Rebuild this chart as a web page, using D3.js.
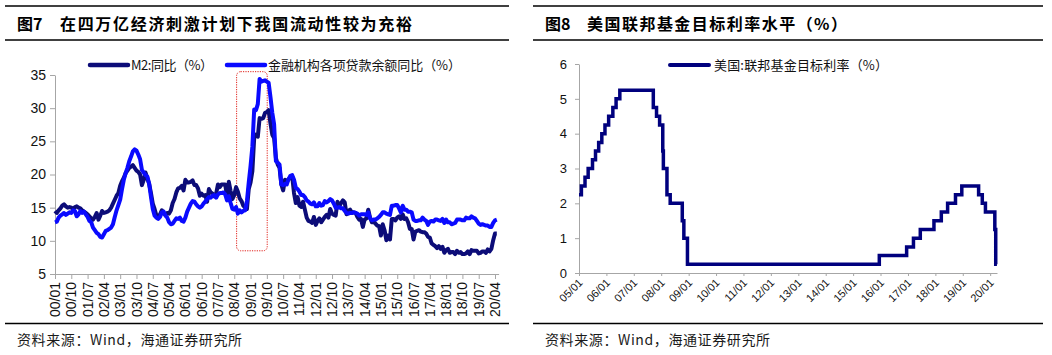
<!DOCTYPE html>
<html><head><meta charset="utf-8">
<script src="https://cdn.jsdelivr.net/npm/d3@7"></script>
<style>
body{margin:0;background:#fff;}
text{font-family:"Liberation Sans",Arial,"Noto Sans CJK SC",sans-serif;}
.cjk{font-family:"Noto Sans CJK SC",sans-serif;}
</style></head><body>
<svg id="c" width="1052" height="355"></svg>
<script>
// ---------- DATA ----------
// Left chart: monthly, 2000/01 .. 2020/05
const startYear = 2000;
const m2Yoy = [
14.5,14.2,14.6,14.9,15.3,15.5,15.2,15.0,15.1,15.0,14.8,15.1,
15.2,15.0,14.9,14.6,14.4,14.2,14.0,13.7,13.4,13.2,13.6,14.2,
13.2,13.8,14.5,14.2,14.3,14.4,14.6,15.0,15.6,16.2,16.8,17.2,
18.3,19.0,19.5,20.2,20.6,21.0,21.2,21.4,21.0,20.6,20.4,20.0,
18.4,19.2,20.3,19.4,18.6,17.2,15.6,14.8,13.8,13.6,14.0,14.6,
14.1,14.0,14.2,14.1,14.6,15.7,16.3,17.3,17.9,18.0,18.3,17.6,
19.2,18.8,18.8,18.9,19.1,18.4,18.4,17.9,16.8,17.1,16.8,16.9,
15.9,17.8,17.3,17.1,16.7,17.1,18.5,18.1,18.5,18.5,18.5,16.7,
18.9,17.5,16.3,16.9,18.1,17.4,16.4,16.0,15.3,15.0,14.8,17.8,
18.8,20.5,25.5,26.0,25.7,28.5,28.4,28.5,29.3,29.4,29.7,27.7,
26.0,25.5,22.5,21.5,21.0,18.5,17.6,19.2,19.0,19.3,19.5,19.7,
17.2,15.7,16.6,15.3,15.1,15.9,14.7,13.5,13.0,12.9,12.7,13.6,
12.4,13.0,13.4,12.8,13.2,13.6,13.9,13.5,14.8,14.1,13.9,13.8,
15.9,15.2,15.7,16.1,15.8,14.0,14.5,14.7,14.2,14.3,14.2,13.6,
13.2,13.3,12.1,13.2,13.4,14.7,13.5,12.8,12.9,12.6,12.3,12.2,
10.8,12.5,11.6,10.1,10.8,10.2,13.3,13.3,13.1,13.5,13.7,13.3,
14.0,13.3,13.4,12.8,11.8,11.8,10.2,11.4,11.5,11.6,11.4,11.3,
11.3,11.1,10.6,10.5,9.6,9.4,9.2,8.9,9.2,8.8,9.1,8.2,
8.6,8.8,8.2,8.3,8.3,8.0,8.5,8.2,8.3,8.0,8.0,8.1,
8.4,8.0,8.6,8.5,8.5,8.5,8.1,8.2,8.4,8.4,8.2,8.7,
8.4,8.8,10.1,11.1,11.1
];
const loanYoy = [
12.8,12.9,13.5,13.8,14.0,14.2,13.9,14.1,14.3,14.2,14.6,14.5,
13.7,14.0,14.5,14.2,14.4,14.0,13.6,13.0,12.8,12.0,11.6,11.2,
11.0,10.6,10.5,11.0,11.5,11.6,11.8,12.0,12.5,13.6,14.6,15.4,
16.2,17.8,19.2,20.2,21.0,22.0,22.7,23.5,23.8,23.6,23.0,22.3,
20.7,20.3,19.9,19.7,18.6,16.6,14.8,13.8,13.5,13.3,13.6,14.3,
14.4,13.8,13.5,12.8,12.5,12.6,13.0,13.4,13.3,13.5,13.0,12.9,
13.5,14.4,15.0,15.6,16.0,15.9,15.5,15.2,15.0,15.2,15.6,15.9,
16.3,16.6,16.5,16.8,16.9,16.5,17.0,17.2,17.2,17.3,17.0,16.1,
16.7,15.7,14.8,14.7,15.1,14.1,14.6,14.3,14.5,14.6,16.0,18.8,
21.3,24.2,29.8,29.7,30.6,34.4,34.0,34.1,34.2,34.0,33.8,31.7,
29.3,27.6,22.0,21.8,21.5,18.5,18.4,18.6,18.5,19.3,19.8,19.9,
19.2,18.0,17.8,17.4,16.9,16.9,16.6,16.1,15.9,15.6,15.5,15.8,
15.2,15.2,15.7,15.3,15.4,16.0,15.8,16.0,16.3,16.1,15.6,15.0,
15.0,15.1,14.9,14.9,14.5,14.2,14.1,14.2,14.2,14.3,14.2,14.1,
13.8,14.0,14.0,14.0,13.9,14.3,13.4,13.1,13.2,13.2,13.4,13.6,
13.9,14.3,14.3,14.1,14.0,13.9,15.3,15.3,15.4,15.4,14.9,14.3,
15.3,14.7,14.7,14.4,14.4,14.3,13.2,13.0,13.0,13.1,13.1,13.5,
13.2,13.0,12.4,12.9,13.0,12.9,13.2,13.2,13.1,13.0,13.3,12.7,
13.2,12.8,12.8,12.5,12.6,12.7,13.2,13.2,13.2,13.1,13.1,13.5,
13.4,13.4,13.7,13.5,13.4,13.0,12.6,12.4,12.5,12.4,12.3,12.3,
12.1,12.1,12.7,13.1,13.2
];
const leftXTicks = ["00/01","00/10","01/07","02/04","03/01","03/10","04/07","05/04","06/01","06/10",
"07/07","08/04","09/01","09/10","10/07","11/04","12/01","12/10","13/07","14/04","15/01","15/10",
"16/07","17/04","18/01","18/10","19/07","20/04"];
const leftYTicks = [5,10,15,20,25,30,35];
const leftSeriesNames = ["M2:同比（%）","金融机构各项贷款余额同比（%）"];

// Right chart: Fed funds target rate (upper bound), step changes
const fedDates = ["2005-01-01","2005-02-02","2005-03-22","2005-05-03","2005-06-30","2005-08-09","2005-09-20",
"2005-11-01","2005-12-13","2006-01-31","2006-03-28","2006-05-10","2006-06-29","2007-09-18","2007-10-31",
"2007-12-11","2008-01-22","2008-01-30","2008-03-18","2008-04-30","2008-10-08","2008-10-29","2008-12-16",
"2015-12-16","2016-12-14","2017-03-15","2017-06-14","2017-12-13","2018-03-21","2018-06-13","2018-09-26",
"2018-12-19","2019-07-31","2019-09-18","2019-10-30","2020-03-03","2020-03-15","2020-03-31"];
const fedRates = [2.25,2.5,2.75,3.0,3.25,3.5,3.75,4.0,4.25,4.5,4.75,5.0,5.25,4.75,4.5,4.25,3.5,3.0,2.25,2.0,
1.5,1.0,0.25,0.5,0.75,1.0,1.25,1.5,1.75,2.0,2.25,2.5,2.25,2.0,1.75,1.25,0.25,0.25];
const rightXTicks = ["05/01","06/01","07/01","08/01","09/01","10/01","11/01","12/01","13/01","14/01",
"15/01","16/01","17/01","18/01","19/01","20/01"];
const rightYTicks = [0,1,2,3,4,5,6];
const rightSeriesName = "美国:联邦基金目标利率（%）";

// ---------- DRAW ----------
const svg = d3.select("#c");
const axisColor = "#a6a6a6";
const navy = "#0c0c78", blue = "#0a0aff", fedNavy = "#00007e";

// frames, titles, sources
function frame(x0, x1, fig, title, titleX, titleLen) {
  svg.append("line").attr("x1",x0).attr("x2",x1).attr("y1",6).attr("y2",6).attr("stroke","#000").attr("stroke-width",1.5);
  svg.append("line").attr("x1",x0).attr("x2",x1).attr("y1",40).attr("y2",40).attr("stroke","#000").attr("stroke-width",1.5);
  svg.append("line").attr("x1",x0).attr("x2",x1).attr("y1",323.5).attr("y2",323.5).attr("stroke","#000").attr("stroke-width",1.5);
  svg.append("text").attr("class","cjk").attr("x",x0+12).attr("y",30).attr("font-size",16).attr("font-weight","bold").text(fig);
  svg.append("text").attr("class","cjk").attr("x",titleX).attr("y",30).attr("font-size",16).attr("font-weight","bold")
    .attr("textLength",titleLen).attr("lengthAdjust","spacing").text(title);
  svg.append("text").attr("class","cjk").attr("x",x0+12).attr("y",345).attr("font-size",14).attr("fill","#1a1a1a")
    .attr("textLength",225).attr("lengthAdjust","spacing").text("资料来源：Wind，海通证券研究所");
}
frame(5, 509, "图7", "在四万亿经济刺激计划下我国流动性较为充裕", 60, 352);
frame(533, 1043, "图8", "美国联邦基金目标利率水平（%）", 587, 260);

// ---- Left chart ----
const monthIndex = s => { const [yy, mm] = s.split("/").map(Number); return (2000 + yy - startYear) * 12 + mm - 1; };
const xL = d3.scaleLinear().domain([0, 245]).range([55, 55 + 245 * 440 / 243]);
const yL = d3.scaleLinear().domain([5, 35]).range([274, 75]);
const gL = svg.append("g");

const yAxL = d3.axisLeft(yL).tickValues(leftYTicks).tickSize(5).tickSizeOuter(0).tickPadding(4).tickFormat(d3.format("d"));
const gy = gL.append("g").attr("transform","translate(55,0)").call(yAxL);
gy.selectAll("path,line").attr("stroke",axisColor);
gy.selectAll("text").attr("font-size",14).attr("fill","#111").attr("font-family","Liberation Sans, Arial");

const xAxL = d3.axisBottom(xL).tickValues(leftXTicks.map(monthIndex)).tickSize(5).tickSizeOuter(0).tickFormat("");
const gx = gL.append("g").attr("transform","translate(0,274)").call(xAxL);
gx.selectAll("path,line").attr("stroke",axisColor);
gL.append("g").selectAll("text").data(leftXTicks).join("text")
  .attr("transform", d => `translate(${xL(monthIndex(d))},282) rotate(-90)`)
  .attr("text-anchor","end").attr("dy","0.36em").attr("font-size",14).attr("fill","#111").text(d => d);

// red dotted annotation box (2008/05 - 2009/10)
gL.append("rect").attr("x", xL(100.3)).attr("y", yL(35.5)).attr("width", xL(117.2) - xL(100.3))
  .attr("height", yL(8.5) - yL(35.5)).attr("rx",4).attr("fill","none").attr("stroke","#e0201a")
  .attr("stroke-width",1).attr("stroke-dasharray","1.2,1.2");

const lineL = d3.line().x((d,i) => xL(i)).y(d => yL(d));
gL.append("path").datum(m2Yoy).attr("d", lineL).attr("fill","none").attr("stroke",navy)
  .attr("stroke-width",4).attr("stroke-linejoin","round");
gL.append("path").datum(loanYoy).attr("d", lineL).attr("fill","none").attr("stroke",blue)
  .attr("stroke-width",4).attr("stroke-linejoin","round");

// legend
const legL = [{x:90, c:navy, t:leftSeriesNames[0], len:82}, {x:227, c:blue, t:leftSeriesNames[1], len:193}];
legL.forEach(l => {
  gL.append("line").attr("x1",l.x).attr("x2",l.x+38).attr("y1",65).attr("y2",65).attr("stroke",l.c)
    .attr("stroke-width",4.5).attr("stroke-linecap","round");
  gL.append("text").attr("class","cjk").attr("x",l.x+41).attr("y",65).attr("dy","0.36em").attr("font-size",13)
    .attr("fill","#111").attr("textLength",l.len).attr("lengthAdjust","spacing").text(l.t);
});

// ---- Right chart ----
const parse = d3.timeParse("%Y-%m-%d");
const xR = d3.scaleTime().domain([parse("2005-01-01"), parse("2020-04-01")]).range([579, 997]);
const yR = d3.scaleLinear().domain([0, 6]).range([273, 64]);
const gR = svg.append("g");
const tickDate = s => { const [yy, mm] = s.split("/").map(Number); return new Date(2000 + yy, mm - 1, 1); };

const yAxR = d3.axisLeft(yR).tickValues(rightYTicks).tickSize(4).tickSizeOuter(0).tickPadding(8).tickFormat(d3.format("d"));
const gyR = gR.append("g").attr("transform","translate(579,0)").call(yAxR);
gyR.selectAll("path,line").attr("stroke",axisColor);
gyR.selectAll("text").attr("font-size",13).attr("fill","#111").attr("font-family","Liberation Sans, Arial");

const xAxR = d3.axisBottom(xR).tickValues(rightXTicks.map(tickDate)).tickSize(3).tickSizeOuter(0).tickFormat("");
const gxR = gR.append("g").attr("transform","translate(0,273)").call(xAxR);
gxR.selectAll("path,line").attr("stroke",axisColor);
gR.append("g").selectAll("text").data(rightXTicks).join("text")
  .attr("transform", d => `translate(${xR(tickDate(d)) + 2},281) rotate(-45)`)
  .attr("text-anchor","end").attr("dy","0.3em").attr("font-size",11).attr("fill","#111").text(d => d);

const fedData = fedDates.map((d,i) => ({date: parse(d), v: fedRates[i]}));
const lineR = d3.line().x(d => xR(d.date)).y(d => yR(d.v)).curve(d3.curveStepAfter);
gR.append("path").datum(fedData).attr("d", lineR).attr("fill","none").attr("stroke",fedNavy)
  .attr("stroke-width",3.5).attr("stroke-linejoin","miter");

gR.append("line").attr("x1",670).attr("x2",709).attr("y1",65).attr("y2",65).attr("stroke",fedNavy)
  .attr("stroke-width",4).attr("stroke-linecap","round");
gR.append("text").attr("class","cjk").attr("x",714).attr("y",65).attr("dy","0.36em").attr("font-size",13)
  .attr("fill","#111").attr("textLength",174).attr("lengthAdjust","spacing").text(rightSeriesName);
</script>
</body></html>
